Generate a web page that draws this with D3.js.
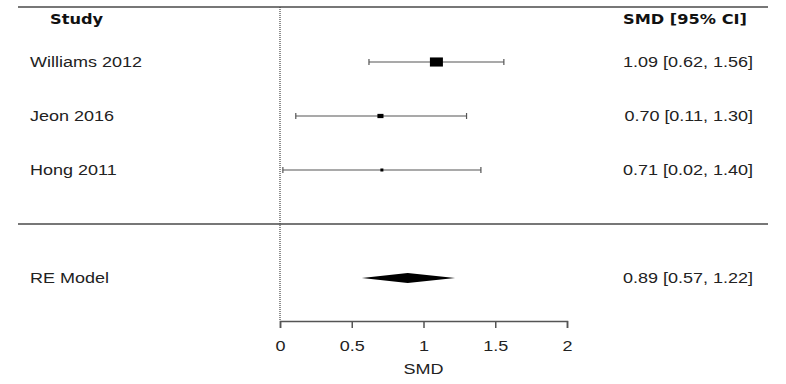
<!DOCTYPE html>
<html>
<head>
<meta charset="utf-8">
<script src="https://cdn.jsdelivr.net/npm/d3@7"></script>
<style>
  body { margin: 0; background: #fff; }
  svg { display: block; }
</style>
</head>
<body>
<div id="chart"></div>
<script>
const WIDTH = 786, HEIGHT = 384;

// data
const studies = ["Williams 2012", "Jeon 2016", "Hong 2011"];
const estimates = [1.09, 0.70, 0.71];
const lowers = [0.62, 0.11, 0.02];
const uppers = [1.56, 1.30, 1.40];
const weights = [48, 30, 22];
const pooled = { label: "RE Model", est: 0.89, lo: 0.57, hi: 1.22 };
const xTicks = [0, 0.5, 1, 1.5, 2];

const fmt = d3.format(".2f");
const ciText = (e, l, u) => `${fmt(e)} [${fmt(l)}, ${fmt(u)}]`;

const svg = d3.select("#chart").append("svg")
  .attr("width", WIDTH)
  .attr("height", HEIGHT)
  .style("font-family", "'Liberation Sans', Arial, sans-serif");

const x = d3.scaleLinear().domain([0, 2]).range([280, 567]);
// rows like metafor: studies k..1, separator 0, pooled -1
const y = d3.scaleLinear().domain([3, -1]).range([62, 278]);
const boxW = d3.scaleLinear().domain(d3.extent(weights)).range([3, 13]);

const LEFT = 18, RIGHT = 768, TOP = 7, AXIS_Y = 321;
const STRETCH = 1.2; // the original picture is widened a bit

// text widened horizontally like the source image
function label(tx, ty, str, anchor, opts) {
  opts = opts || {};
  const t = svg.append("g")
    .attr("transform", `translate(${tx},${ty}) scale(${STRETCH},1)`)
    .append("text")
    .attr("text-anchor", anchor || "start")
    .attr("font-size", opts.size || 15)
    .attr("fill", opts.fill || "#222")
    .text(str);
  if (opts.bold) t.attr("font-weight", "bold");
  if (opts.family) t.attr("font-family", opts.family);
  return t;
}

// top rule + separator
svg.append("line")
  .attr("x1", LEFT).attr("x2", RIGHT)
  .attr("y1", TOP).attr("y2", TOP)
  .attr("stroke", "#777").attr("stroke-width", 2);
svg.append("line")
  .attr("x1", LEFT).attr("x2", RIGHT)
  .attr("y1", y(0)).attr("y2", y(0))
  .attr("stroke", "#777").attr("stroke-width", 2);

// null line
svg.append("line")
  .attr("x1", x(0)).attr("x2", x(0))
  .attr("y1", TOP).attr("y2", AXIS_Y)
  .attr("stroke", "#444").attr("stroke-width", 1.2)
  .attr("stroke-dasharray", "1,1");

// headers
label(50, 24, "Study", "start", { bold: true, size: 13.5, fill: "#111", family: "'DejaVu Sans', Verdana, sans-serif" });
label(747, 24, "SMD [95% CI]", "end", { bold: true, size: 13.5, fill: "#111", family: "'DejaVu Sans', Verdana, sans-serif" });

// study rows
const rows = studies.map((s, i) => ({
  study: s, est: estimates[i], lo: lowers[i], hi: uppers[i], w: weights[i], row: studies.length - i
}));

const g = svg.append("g");
rows.forEach(d => {
  const cy = y(d.row);
  g.append("line")
    .attr("x1", x(d.lo)).attr("x2", x(d.hi))
    .attr("y1", cy).attr("y2", cy)
    .attr("stroke", "#555").attr("stroke-width", 1.2);
  [d.lo, d.hi].forEach(v => {
    g.append("line")
      .attr("x1", x(v)).attr("x2", x(v))
      .attr("y1", cy - 3).attr("y2", cy + 3)
      .attr("stroke", "#555").attr("stroke-width", 1.2);
  });
  const bw = boxW(d.w), bh = Math.max(3, bw * 0.7);
  g.append("rect")
    .attr("x", x(d.est) - bw / 2).attr("y", cy - bh / 2)
    .attr("width", bw).attr("height", bh)
    .attr("fill", "#000");
  label(30, cy + 5, d.study, "start");
  label(753, cy + 5, ciText(d.est, d.lo, d.hi), "end");
});

// pooled diamond
const py = y(-1);
svg.append("path")
  .attr("d", d3.line()([
    [x(pooled.lo), py], [x(pooled.est), py - 5],
    [x(pooled.hi), py], [x(pooled.est), py + 5]
  ]) + "Z")
  .attr("fill", "#000");
label(30, py + 5, pooled.label, "start");
label(753, py + 5, ciText(pooled.est, pooled.lo, pooled.hi), "end");

// axis
const axis = svg.append("g")
  .attr("transform", `translate(0, ${AXIS_Y})`)
  .call(d3.axisBottom(x).tickValues(xTicks).tickSize(7).tickPadding(12).tickFormat(d3.format("")));
axis.select(".domain").attr("stroke", "#555").attr("stroke-width", 1.5);
axis.selectAll(".tick line").attr("stroke", "#555").attr("stroke-width", 1.5);
axis.selectAll(".tick text")
  .attr("font-size", 15)
  .attr("font-family", "'Liberation Sans', Arial, sans-serif")
  .attr("fill", "#222")
  .attr("transform", `scale(${STRETCH},1)`);

label(x(1), 374, "SMD", "middle");
</script>
</body>
</html>
